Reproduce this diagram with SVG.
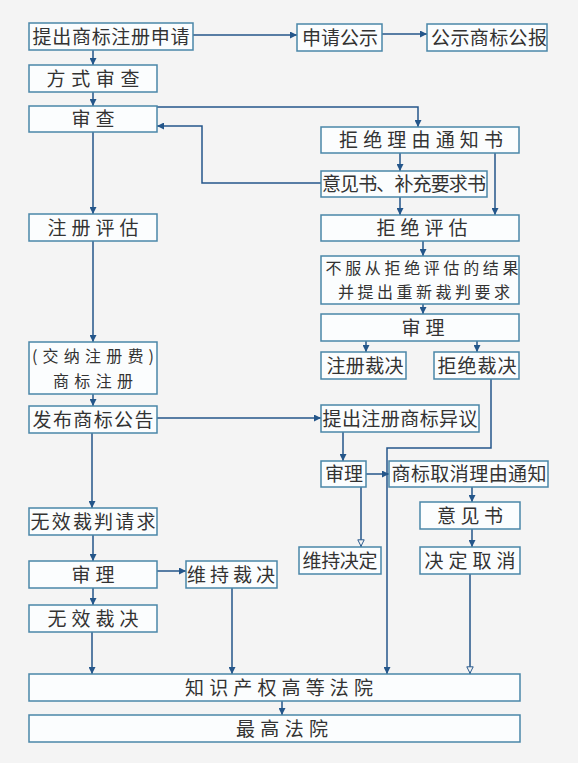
<svg xmlns="http://www.w3.org/2000/svg" width="578" height="763" viewBox="0 0 578 763">
<style>
.bg{fill:#f4f4f4}
.box{fill:#fbfdfe;stroke:#4a86a8;stroke-width:1.5}
.t{font-family:"Noto Sans CJK SC","Noto Sans CJK TC",sans-serif;font-size:19px;fill:#333;text-anchor:middle}
.s{font-size:16px}
.c{fill:none;stroke:#24568a;stroke-width:1.5}
.a{marker-end:url(#arr)}
.h{marker-end:url(#hol)}
</style>
<defs>
<marker id="arr" viewBox="0 0 10 10" refX="10" refY="5" markerWidth="9" markerHeight="7" markerUnits="userSpaceOnUse" orient="auto"><path d="M0,0 L10,5 L0,10 z" fill="#24568a"/></marker>
<marker id="hol" viewBox="0 0 10 10" refX="10" refY="5" markerWidth="10" markerHeight="8" markerUnits="userSpaceOnUse" orient="auto"><path d="M1,1 L9,5 L1,9 z" fill="#f4f4f4" stroke="#24568a" stroke-width="1.2"/></marker>
</defs>
<rect class="bg" x="0" y="0" width="578" height="763"/>
<g id="connectors">
<path class="c a" d="M93,50 V65"/>
<path class="c a" d="M193,35 H297"/>
<path class="c a" d="M382,34 H427"/>
<path class="c a" d="M93,92 V106"/>
<path class="c a" d="M157,107 H418 V127"/>
<path class="c a" d="M93,132 V214"/>
<path class="c a" d="M400,153 V171"/>
<path class="c a" d="M321,183 H202 V126 H157"/>
<path class="c a" d="M400,197 V215"/>
<path class="c a" d="M495,153 V215"/>
<path class="c a" d="M423,241 V256"/>
<path class="c a" d="M423,304 V314"/>
<path class="c a" d="M366,341 V352"/>
<path class="c a" d="M477,341 V352"/>
<path class="c a" d="M93,241 V342"/>
<path class="c a" d="M93,394 V406"/>
<path class="c a" d="M157,418 H321"/>
<path class="c a" d="M491,379 V448 H387 V674"/>
<path class="c a" d="M343,432 V461"/>
<path class="c a" d="M366,474 H389"/>
<path class="c h" d="M361,487 V547"/>
<path class="c a" d="M472,487 V502"/>
<path class="c a" d="M472,529 V547"/>
<path class="c h" d="M470,574 V674"/>
<path class="c a" d="M92,433 V508"/>
<path class="c a" d="M93,535 V561"/>
<path class="c a" d="M157,571 H186"/>
<path class="c a" d="M93,588 V605"/>
<path class="c a" d="M92,632 V674"/>
<path class="c a" d="M232,588 V674"/>
<path class="c a" d="M282,701 V715"/>
</g>
<g id="n1"><rect class="box" x="29" y="23" width="164" height="27"/><text class="t" x="111" y="44" textLength="157" lengthAdjust="spacing">提出商标注册申请</text></g>
<g id="n2"><rect class="box" x="297" y="24" width="85" height="27"/><text class="t" x="340" y="45" textLength="76" lengthAdjust="spacing">申请公示</text></g>
<g id="n3"><rect class="box" x="427" y="24" width="120" height="27"/><text class="t" x="489" y="45" textLength="116" lengthAdjust="spacing">公示商标公报</text></g>
<g id="n4"><rect class="box" x="29" y="65" width="128" height="27"/><text class="t" x="93" y="86" textLength="93" lengthAdjust="spacing">方式审查</text></g>
<g id="n5"><rect class="box" x="29" y="106" width="128" height="26"/><text class="t" x="93" y="126" textLength="43" lengthAdjust="spacing">审查</text></g>
<g id="n6"><rect class="box" x="321" y="127" width="198" height="26"/><text class="t" x="421" y="147" textLength="164" lengthAdjust="spacing">拒绝理由通知书</text></g>
<g id="n7"><rect class="box" x="321" y="171" width="166" height="26"/><text class="t" x="404" y="191" textLength="164" lengthAdjust="spacing">意见书、补充要求书</text></g>
<g id="n8"><rect class="box" x="29" y="214" width="128" height="27"/><text class="t" x="93" y="235" textLength="91" lengthAdjust="spacing">注册评估</text></g>
<g id="n9"><rect class="box" x="321" y="215" width="198" height="26"/><text class="t" x="422" y="235" textLength="91" lengthAdjust="spacing">拒绝评估</text></g>
<g id="n10"><rect class="box" x="321" y="256" width="198" height="48"/><text class="t s" x="422" y="274" textLength="193" lengthAdjust="spacing">不服从拒绝评估的结果</text><text class="t s" x="424" y="298" textLength="172" lengthAdjust="spacing">并提出重新裁判要求</text></g>
<g id="n11"><rect class="box" x="321" y="314" width="198" height="27"/><text class="t" x="423" y="335" textLength="43" lengthAdjust="spacing">审理</text></g>
<g id="n12"><rect class="box" x="321" y="352" width="85" height="27"/><text class="t" x="365" y="373" textLength="77" lengthAdjust="spacing">注册裁决</text></g>
<g id="n13"><rect class="box" x="434" y="352" width="85" height="27"/><text class="t" x="477" y="373" textLength="79" lengthAdjust="spacing">拒绝裁决</text></g>
<g id="n14"><rect class="box" x="29" y="342" width="128" height="52"/><text class="t s" x="93" y="362" textLength="122" lengthAdjust="spacing">(交纳注册费)</text><text class="t s" x="93" y="387" textLength="80" lengthAdjust="spacing">商标注册</text></g>
<g id="n15"><rect class="box" x="29" y="406" width="128" height="27"/><text class="t" x="93" y="427" textLength="121" lengthAdjust="spacing">发布商标公告</text></g>
<g id="n16"><rect class="box" x="321" y="405" width="158" height="27"/><text class="t" x="400" y="426" textLength="155" lengthAdjust="spacing">提出注册商标异议</text></g>
<g id="n17"><rect class="box" x="321" y="461" width="45" height="26"/><text class="t" x="344" y="481" textLength="38" lengthAdjust="spacing">审理</text></g>
<g id="n18"><rect class="box" x="389" y="461" width="159" height="26"/><text class="t" x="469" y="481" textLength="155" lengthAdjust="spacing">商标取消理由通知</text></g>
<g id="n19"><rect class="box" x="420" y="502" width="100" height="27"/><text class="t" x="470" y="523" textLength="66" lengthAdjust="spacing">意见书</text></g>
<g id="n20"><rect class="box" x="299" y="547" width="82" height="27"/><text class="t" x="340" y="568" textLength="75" lengthAdjust="spacing">维持决定</text></g>
<g id="n21"><rect class="box" x="420" y="547" width="100" height="27"/><text class="t" x="470" y="568" textLength="91" lengthAdjust="spacing">决定取消</text></g>
<g id="n22"><rect class="box" x="29" y="508" width="128" height="27"/><text class="t" x="93" y="529" textLength="125" lengthAdjust="spacing">无效裁判请求</text></g>
<g id="n23"><rect class="box" x="29" y="561" width="128" height="27"/><text class="t" x="93" y="582" textLength="43" lengthAdjust="spacing">审理</text></g>
<g id="n24"><rect class="box" x="186" y="561" width="91" height="27"/><text class="t" x="231" y="582" textLength="88" lengthAdjust="spacing">维持裁决</text></g>
<g id="n25"><rect class="box" x="29" y="605" width="128" height="27"/><text class="t" x="93" y="626" textLength="91" lengthAdjust="spacing">无效裁决</text></g>
<g id="n26"><rect class="box" x="29" y="674" width="491" height="27"/><text class="t" x="279" y="695" textLength="188" lengthAdjust="spacing">知识产权高等法院</text></g>
<g id="n27"><rect class="box" x="29" y="715" width="491" height="27"/><text class="t" x="282" y="736" textLength="92" lengthAdjust="spacing">最高法院</text></g>
</svg>
